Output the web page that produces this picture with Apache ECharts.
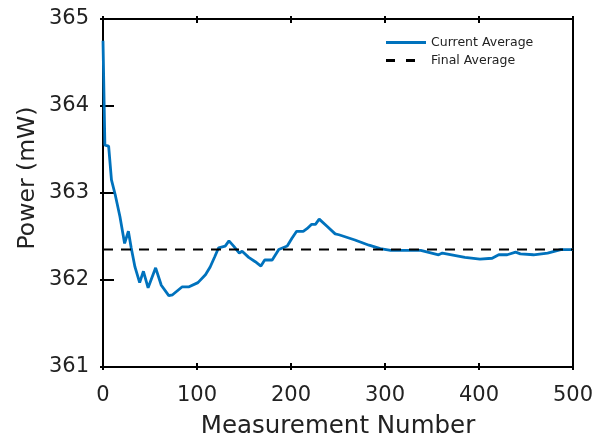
<!DOCTYPE html>
<html lang="en">
<head>
    <meta charset="UTF-8">
    <title>Power</title>
    <script src="https://cdn.jsdelivr.net/npm/echarts@6/dist/echarts.min.js"></script>
    <style>
        body { margin: 0; background: #fff; }
    </style>
</head>
<body>
    <div id="main" style="width: 616px;height:437px;"></div>
    <script type="text/javascript">
        const measurementX = [0, 2, 4, 6, 9, 13, 18, 23, 27, 30, 34, 39, 43, 48, 56, 62, 70, 74, 84, 91,
            101, 109, 114, 119, 123, 130, 134, 139, 145, 148, 155, 162, 168, 172, 180, 187, 196, 201, 206,
            213, 217, 222, 226, 230, 238, 247, 251, 268, 283, 295, 306, 338, 357, 361, 385, 401, 414, 421,
            430, 439, 444, 458, 473, 487, 500];
        const currentAvg = [364.75, 363.55, 363.54, 363.54, 363.15, 362.98, 362.73, 362.42, 362.56, 362.37,
            362.15, 361.97, 362.10, 361.91, 362.14, 361.94, 361.82, 361.83, 361.92, 361.92,
            361.97, 362.06, 362.15, 362.27, 362.37, 362.39, 362.45, 362.39, 362.31, 362.33, 362.26, 362.21,
            362.16, 362.23, 362.23, 362.35, 362.39, 362.48, 362.56, 362.56, 362.59, 362.64, 362.64, 362.70,
            362.62, 362.53, 362.52, 362.46, 362.40, 362.36, 362.34, 362.34, 362.29, 362.31, 362.26, 362.24,
            362.25, 362.29, 362.29, 362.32, 362.30, 362.29, 362.31, 362.35, 362.35];
        const finalAvg = 362.35;
        const xRange = [0, 500];
        const yRange = [361, 365];

        var myChart = echarts.init(document.getElementById('main'));
        const font = 'DejaVu Sans';

        // ticks crossing the box line: axis shifted inward, ticks drawn outward twice as long
        function xAx(pos, labels) {
            return {
                type: 'value', position: pos, min: xRange[0], max: xRange[1], interval: 100,
                offset: -4,
                axisLine: { show: false },
                axisTick: { show: true, inside: false, length: 7, lineStyle: { color: '#000', width: 2 } },
                axisLabel: { show: labels, margin: 22, color: '#222', fontSize: 21, fontFamily: font },
                splitLine: { show: false },
                name: labels ? 'Measurement Number' : '',
                nameLocation: 'middle', nameGap: 51,
                nameTextStyle: { color: '#222', fontSize: 24.5, fontFamily: font }
            };
        }
        function yAx(pos, labels) {
            return {
                type: 'value', position: pos, min: yRange[0], max: yRange[1], interval: 1,
                offset: -4,
                axisLine: { show: false },
                axisTick: { show: true, inside: false, length: 7, lineStyle: { color: '#000', width: 2 } },
                axisLabel: { show: labels, margin: 18, color: '#222', fontSize: 21, fontFamily: font },
                splitLine: { show: false }
            };
        }

        option = {
            animation: false,
            backgroundColor: '#fff',
            grid: {
                left: 103, right: 43, top: 19, bottom: 70,
                outerBoundsMode: 'none',
                show: true, borderColor: '#000', borderWidth: 2, backgroundColor: 'transparent'
            },
            legend: {
                left: 381, top: 31, orient: 'vertical',
                itemWidth: 40, itemHeight: 12, itemGap: 5,
                textStyle: { color: '#222', fontSize: 12.5, fontFamily: font },
                data: [
                    { name: 'Current Average', icon: 'path://M0,0h40v2.8h-40z', itemStyle: { color: '#0072BD' } },
                    { name: 'Final Average', icon: 'path://M0,0h9v2.8h-9zM20,0h9v2.8h-9zM40,0v2.8', itemStyle: { color: '#000' } }
                ]
            },
            graphic: [{
                type: 'text', x: 28, y: 178, rotation: Math.PI / 2,
                style: { text: 'Power (mW)', fill: '#222', fontSize: 23.5, fontFamily: font, align: 'center', verticalAlign: 'middle' }
            }],
            xAxis: [xAx('bottom', true), xAx('top', false)],
            yAxis: [yAx('left', true), yAx('right', false)],
            series: [
                {
                    name: 'Current Average', type: 'line', showSymbol: false, symbol: 'none',
                    data: measurementX.map((x, i) => [x, currentAvg[i]]),
                    lineStyle: { color: '#0072BD', width: 2.8 }, itemStyle: { color: '#0072BD' }
                },
                {
                    name: 'Final Average', type: 'line', showSymbol: false, symbol: 'none',
                    data: [[xRange[0], finalAvg], [xRange[1], finalAvg]],
                    lineStyle: { color: '#000', width: 2, type: [10, 8] }, itemStyle: { color: '#000' }
                }
            ]
        };
        myChart.setOption(option);
    </script>
</body>
</html>
